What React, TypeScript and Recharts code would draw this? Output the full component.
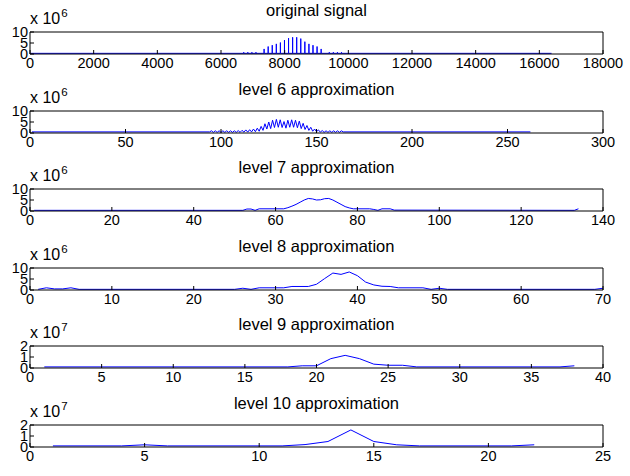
import { LineChart, Line, XAxis, YAxis } from "recharts";

const FONT = "'Liberation Sans', Arial, Helvetica, sans-serif";

const titles = [
  "original signal",
  "level 6 approximation",
  "level 7 approximation",
  "level 8 approximation",
  "level 9 approximation",
  "level 10 approximation",
];
const exponents = ["6", "6", "6", "6", "7", "7"];
const xMaxes = [18000, 300, 140, 70, 40, 25];
const xTicks = [
  [0, 2000, 4000, 6000, 8000, 10000, 12000, 14000, 16000, 18000],
  [0, 50, 100, 150, 200, 250, 300],
  [0, 20, 40, 60, 80, 100, 120, 140],
  [0, 10, 20, 30, 40, 50, 60, 70],
  [0, 5, 10, 15, 20, 25, 30, 35, 40],
  [0, 5, 10, 15, 20, 25],
];
const yMaxes = [10, 10, 10, 10, 2, 2];
const yTicks = [
  [0, 5, 10],
  [0, 5, 10],
  [0, 5, 10],
  [0, 5, 10],
  [0, 1, 2],
  [0, 1, 2],
];

// original signal (x 10^6): flat baseline with narrow spikes
const origLength = 16384;
const origBase = 0.3;
const origSpikeX = [
  6714, 6842, 6970, 7098, 7354, 7482, 7610, 7738, 7866, 7994, 8122, 8250,
  8378, 8506, 8634, 8762, 8890, 9018, 9146, 9402, 9530, 9658, 9786,
];
const origSpikeY = [
  0.8, 0.8, 0.8, 0.8, 2.3, 3.4, 4.0, 4.6, 5.2, 6.3, 7.2, 7.6, 7.6, 7.0, 5.6,
  4.6, 4.0, 3.4, 2.3, 0.8, 0.8, 0.8, 0.8,
];

// level 6 (x 10^6): zigzag between samples 94 and 164
const l6Length = 262;
const l6Base = 0.5;
const l6Start = 94;
const l6Values = [
  0.5, 1.0, 0.3, 1.0, 0.3, 1.0, 0.3, 1.0, 0.3, 1.0, 0.3, 1.0, 0.3, 1.0, 0.3,
  1.1, 0.3, 1.2, 0.4, 1.4, 0.4, 1.5, 0.5, 1.8, 0.6, 2.2, 0.8, 3.0, 1.2, 4.2,
  1.8, 5.0, 2.0, 5.8, 2.5, 6.2, 2.6, 6.0, 2.5, 5.2, 2.2, 5.8, 2.6, 6.0, 2.6,
  5.8, 2.4, 5.4, 2.0, 4.4, 1.6, 3.4, 1.2, 2.6, 0.8, 1.8, 0.6, 1.4, 0.4, 1.1,
  0.3, 1.0, 0.3, 1.0, 0.3, 1.0, 0.3, 1.0, 0.3, 1.0, 0.5,
];

// level 7 (x 10^6)
const l7X = [1, 52, 53, 54, 55, 56, 62, 63, 64, 65, 66, 67, 68, 69, 70, 71, 72, 73, 74, 75, 76, 77, 78, 79, 83, 84, 85, 86, 88, 89, 133, 134];
const l7Y = [0.3, 0.3, 0.9, 0.9, 0.3, 1.0, 1.0, 1.5, 2.2, 3.0, 4.0, 5.0, 5.7, 5.5, 5.0, 5.1, 5.6, 5.7, 5.0, 4.0, 3.0, 2.0, 1.4, 1.0, 1.0, 0.7, 0.3, 1.0, 1.0, 0.4, 0.3, 1.0];

// level 8 (x 10^6)
const l8X = [1, 2, 3, 4, 5, 6, 25, 26, 27, 28, 31, 32, 34, 35, 36, 37, 38, 39, 40, 41, 42, 43, 44, 45, 48, 49, 50, 51, 69, 70];
const l8Y = [0.3, 1.0, 0.5, 0.5, 1.0, 0.3, 0.3, 0.8, 0.3, 1.0, 1.0, 1.6, 1.6, 2.6, 5.2, 7.7, 7.1, 8.2, 6.5, 3.6, 2.3, 1.7, 1.6, 1.0, 1.0, 0.3, 0.8, 0.3, 0.3, 0.8];

// level 9 (x 10^7)
const l9X = [1, 18, 19, 20, 21, 22, 23, 24, 25, 26, 27, 37, 38];
const l9Y = [0.1, 0.1, 0.2, 0.2, 0.85, 1.15, 0.85, 0.35, 0.25, 0.25, 0.1, 0.1, 0.2];

// level 10 (x 10^7)
const l10X = [1, 4, 5, 6, 11, 12, 13, 14, 15, 16, 17, 21, 22];
const l10Y = [0.1, 0.1, 0.2, 0.1, 0.1, 0.22, 0.5, 1.55, 0.5, 0.2, 0.1, 0.1, 0.2];

type Pt = { x: number; y: number };

const zip = (xs: number[], ys: number[]): Pt[] => xs.map((x, i) => ({ x, y: ys[i] }));

const origData: Pt[] = [{ x: 0, y: origBase }];
origSpikeX.forEach((p, i) => {
  origData.push({ x: p - 2, y: origBase }, { x: p, y: origSpikeY[i] }, { x: p + 2, y: origBase });
});
origData.push({ x: origLength, y: origBase });

const l6Data: Pt[] = [
  { x: 1, y: l6Base },
  ...l6Values.map((v, i) => ({ x: l6Start + i, y: v })),
  { x: l6Length, y: l6Base },
];

const series: Pt[][] = [origData, l6Data, zip(l7X, l7Y), zip(l8X, l8Y), zip(l9X, l9Y), zip(l10X, l10Y)];

const LEFT = 30;
const RIGHT = 603;
const BOX_H = 22;
const FIRST_TOP = 32;
const STEP = 78.6;
const MT = 30;
const MB = 26;
const XAXIS_H = 20;

const tickStyle = { fill: "#000", fontSize: 14.5, fontFamily: FONT };
const black = { stroke: "#000" };

function Panel({ idx }: { idx: number }) {
  const boxTop = FIRST_TOP + STEP * idx;
  return (
    <div style={{ position: "absolute", left: 0, top: boxTop - MT, width: 630, height: MT + BOX_H + MB }}>
      <div
        style={{
          position: "absolute",
          left: (LEFT + RIGHT) / 2,
          top: MT - 22,
          transform: "translate(-50%, -50%)",
          fontSize: 16.5,
          fontFamily: FONT,
          whiteSpace: "nowrap",
          lineHeight: 1,
        }}
      >
        {titles[idx]}
      </div>
      <div
        style={{
          position: "absolute",
          left: LEFT,
          top: MT - 21,
          fontSize: 16,
          fontFamily: FONT,
          whiteSpace: "nowrap",
          lineHeight: 1,
        }}
      >
        x 10<span style={{ fontSize: 11.5, position: "relative", top: -7, marginLeft: 1 }}>{exponents[idx]}</span>
      </div>
      <LineChart
        width={630}
        height={MT + BOX_H + MB}
        data={series[idx]}
        margin={{ top: MT - 1, right: 630 - RIGHT - 1, bottom: MB - XAXIS_H, left: 0 }}
      >
        <XAxis
          type="number"
          dataKey="x"
          domain={[0, xMaxes[idx]]}
          ticks={xTicks[idx]}
          interval={0}
          height={XAXIS_H}
          tickSize={-4}
          tickMargin={8}
          axisLine={black}
          tickLine={black}
          tick={tickStyle}
          allowDataOverflow
        />
        <XAxis
          xAxisId="top"
          orientation="top"
          type="number"
          dataKey="x"
          domain={[0, xMaxes[idx]]}
          ticks={xTicks[idx]}
          interval={0}
          height={1}
          tickSize={-4}
          tick={false}
          axisLine={black}
          tickLine={black}
          allowDataOverflow
        />
        <YAxis
          type="number"
          domain={[0, yMaxes[idx]]}
          ticks={yTicks[idx]}
          interval={0}
          width={LEFT}
          tickSize={-4}
          tickMargin={6}
          axisLine={black}
          tickLine={black}
          tick={tickStyle}
          allowDataOverflow
        />
        <YAxis
          yAxisId="right"
          orientation="right"
          type="number"
          domain={[0, yMaxes[idx]]}
          ticks={yTicks[idx]}
          interval={0}
          width={1}
          tickSize={-4}
          tick={false}
          axisLine={black}
          tickLine={black}
          allowDataOverflow
        />
        <Line
          type="linear"
          dataKey="y"
          stroke="#0000ff"
          strokeWidth={1}
          dot={false}
          isAnimationActive={false}
        />
        <Line
          xAxisId="top"
          yAxisId="right"
          type="linear"
          dataKey="y"
          stroke="none"
          dot={false}
          legendType="none"
          isAnimationActive={false}
        />
      </LineChart>
    </div>
  );
}

export default function App() {
  return (
    <div style={{ position: "absolute", left: 0, top: 0, width: 630, height: 476, background: "#fff" }}>
      {titles.map((_, i) => (
        <Panel key={i} idx={i} />
      ))}
    </div>
  );
}
